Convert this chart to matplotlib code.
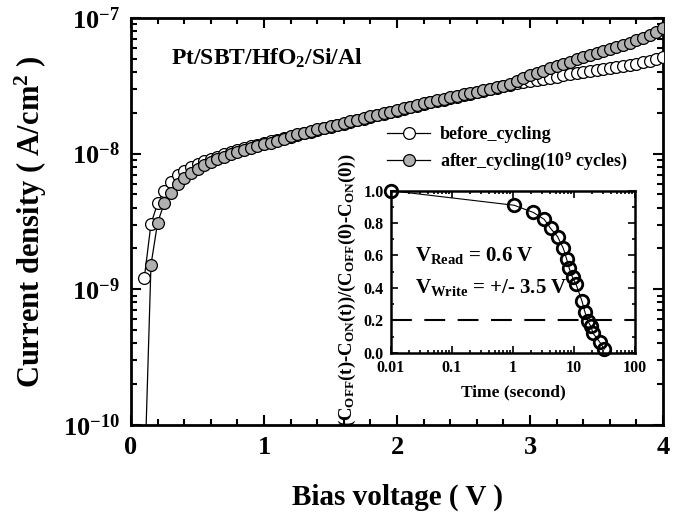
import numpy as np
import matplotlib
matplotlib.use("Agg")
import matplotlib.pyplot as plt
from matplotlib.ticker import FixedLocator, MultipleLocator, LogLocator, NullFormatter, FuncFormatter

plt.rcParams['font.family'] = ['Liberation Serif', 'DejaVu Serif']
plt.rcParams['font.weight'] = 'bold'
plt.rcParams['axes.labelweight'] = 'bold'
plt.rcParams['mathtext.fontset'] = 'custom'
plt.rcParams['mathtext.rm'] = 'Liberation Serif:bold'
plt.rcParams['mathtext.it'] = 'Liberation Serif:bold'
plt.rcParams['mathtext.bf'] = 'Liberation Serif:bold'

# bias voltage steps (V)
v_before = [0.10, 0.15, 0.20, 0.25, 0.30, 0.35, 0.40, 0.45, 0.50, 0.55,
            0.60, 0.65, 0.70, 0.75, 0.80, 0.85, 0.90, 0.95, 1.00, 1.05,
            1.10, 1.15, 1.20, 1.25, 1.30, 1.35, 1.40, 1.45, 1.50, 1.55,
            1.60, 1.65, 1.70, 1.75, 1.80, 1.85, 1.90, 1.95, 2.00, 2.05,
            2.10, 2.15, 2.20, 2.25, 2.30, 2.35, 2.40, 2.45, 2.50, 2.55,
            2.60, 2.65, 2.70, 2.75, 2.80, 2.85, 2.90, 2.95, 3.00, 3.05,
            3.10, 3.15, 3.20, 3.25, 3.30, 3.35, 3.40, 3.45, 3.50, 3.55,
            3.60, 3.65, 3.70, 3.75, 3.80, 3.85, 3.90, 3.95, 4.00]
v_after = v_before

# log10 of current density (A/cm^2)
logj_before = [-8.914, -8.518, -8.365, -8.272, -8.206, -8.157, -8.125, -8.098, -8.075, -8.055,
               -8.038, -8.022, -8.005, -7.990, -7.975, -7.960, -7.947, -7.935, -7.922, -7.910,
               -7.898, -7.886, -7.874, -7.862, -7.850, -7.838, -7.826, -7.814, -7.802, -7.790,
               -7.778, -7.766, -7.754, -7.742, -7.730, -7.718, -7.706, -7.694, -7.682, -7.670,
               -7.658, -7.646, -7.634, -7.623, -7.612, -7.601, -7.590, -7.579, -7.568, -7.557,
               -7.546, -7.535, -7.524, -7.513, -7.502, -7.491, -7.480, -7.472, -7.464, -7.456,
               -7.448, -7.440, -7.432, -7.424, -7.416, -7.408, -7.400, -7.392, -7.384, -7.376,
               -7.368, -7.360, -7.352, -7.344, -7.336, -7.328, -7.318, -7.306, -7.290]
logj_after = [-10.45, -8.820, -8.508, -8.365, -8.287, -8.225, -8.180, -8.140, -8.110, -8.085,
              -8.062, -8.042, -8.024, -8.006, -7.990, -7.975, -7.960, -7.946, -7.932, -7.918,
              -7.905, -7.892, -7.870, -7.858, -7.846, -7.834, -7.822, -7.810, -7.798, -7.786,
              -7.774, -7.762, -7.750, -7.738, -7.726, -7.714, -7.702, -7.690, -7.678, -7.666,
              -7.654, -7.642, -7.630, -7.619, -7.608, -7.597, -7.586, -7.575, -7.564, -7.553,
              -7.542, -7.531, -7.520, -7.509, -7.498, -7.487, -7.468, -7.445, -7.420, -7.405,
              -7.390, -7.372, -7.357, -7.340, -7.323, -7.306, -7.289, -7.271, -7.256, -7.241,
              -7.226, -7.211, -7.197, -7.182, -7.166, -7.148, -7.128, -7.104, -7.074]

# inset: retention
t_inset = [0.01, 1.05, 2.15, 3.26, 4.15, 5.4, 6.7, 7.6, 8.4, 9.5,
           10.8, 13.5, 15.1, 16.8, 18.8, 20.7, 26.7, 31.4]
r_inset = [1.0, 0.91, 0.866, 0.823, 0.767, 0.716, 0.644, 0.578, 0.52, 0.465,
           0.424, 0.321, 0.253, 0.198, 0.165, 0.119, 0.064, 0.023]

fig = plt.figure(figsize=(6.74, 5.21), dpi=100)
ax = fig.add_axes([0.1944, 0.1843, 0.7893, 0.7812])

j_before = 10.0 ** np.array(logj_before)
j_after = 10.0 ** np.array(logj_after)

ax.plot(v_before, j_before, color='black', lw=0.9, marker='o', ms=8.5,
        mfc='white', mec='black', mew=0.9, label='before_cycling', zorder=3)
ax.plot(v_after, j_after, color='black', lw=0.9, marker='o', ms=8.5,
        mfc='#b0b0b0', mec='black', mew=0.9,
        label='after_cycling(10$^9$ cycles)', zorder=4)

ax.set_yscale('log')
ax.set_xlim(0, 4)
ax.set_ylim(1e-10, 1e-7)
ax.xaxis.set_major_locator(MultipleLocator(1))
ax.xaxis.set_minor_locator(MultipleLocator(0.2))
ax.yaxis.set_major_locator(LogLocator(base=10, numticks=10))
ax.yaxis.set_minor_locator(LogLocator(base=10, subs=np.arange(2, 10), numticks=10))
ax.yaxis.set_minor_formatter(NullFormatter())
ax.yaxis.set_major_formatter(FuncFormatter(lambda v, p: '10$^{%d}$' % round(np.log10(v))))
ax.tick_params(which='both', direction='in', top=True, right=True, width=1.5)
ax.tick_params(which='major', length=7, labelsize=19, pad=8)
ax.tick_params(which='minor', length=4)
for s in ax.spines.values():
    s.set_linewidth(2)

ax.set_xlabel('Bias voltage ( V )', fontsize=21, labelpad=18)
ax.set_ylabel('Current density ( A/cm$^2$ )', fontsize=22, labelpad=10)
ax.text(0.075, 0.9, 'Pt/SBT/HfO$_2$/Si/Al', transform=ax.transAxes,
        fontsize=17, ha='left', va='center')

ax.legend(loc='upper left', bbox_to_anchor=(0.561, 0.775),
          bbox_transform=fig.transFigure, frameon=False, fontsize=13,
          handlelength=2.4, handletextpad=0.5, labelspacing=0.35, borderpad=0)

# inset
axi = fig.add_axes([0.580, 0.323, 0.362, 0.311])
axi.plot(t_inset, r_inset, color='black', lw=0.8, marker='o', ms=9,
         mfc='none', mec='black', mew=2, zorder=3, clip_on=False)
axi.axhline(0.2, color='black', lw=1.5, dashes=(10, 6))
axi.set_xscale('log')
axi.set_xlim(0.01, 100)
axi.set_ylim(0, 1.0)
axi.xaxis.set_major_locator(FixedLocator([0.01, 0.1, 1, 10, 100]))
axi.xaxis.set_major_formatter(FuncFormatter(lambda v, p: '%g' % v))
axi.xaxis.set_minor_locator(LogLocator(base=10, subs=np.arange(2, 10), numticks=10))
axi.xaxis.set_minor_formatter(NullFormatter())
axi.yaxis.set_major_locator(MultipleLocator(0.2))
axi.yaxis.set_minor_locator(MultipleLocator(0.1))
axi.yaxis.set_major_formatter(FuncFormatter(lambda v, p: '%.1f' % v))
axi.tick_params(which='both', direction='in', top=True, right=True, width=1.2)
axi.tick_params(which='major', length=5, labelsize=11.5, pad=5)
axi.tick_params(which='minor', length=2.5)
for s in axi.spines.values():
    s.set_linewidth(1.8)
axi.set_xlabel('Time (second)', fontsize=12.5, labelpad=6)
axi.text(0.1, 0.6, 'V$_{\\mathrm{Read}}$ = 0.6 V', transform=axi.transAxes,
         fontsize=15, ha='left', va='center')
axi.text(0.1, 0.4, 'V$_{\\mathrm{Write}}$ = +/- 3.5 V', transform=axi.transAxes,
         fontsize=15, ha='left', va='center')

fig.text(347 / 674, 1 - 290 / 521,
         '(C$_{OFF}$(t)-C$_{ON}$(t))/(C$_{OFF}$(0)-C$_{ON}$(0))',
         rotation=90, fontsize=13.5, ha='center', va='center')

fig.savefig('out.png', dpi=100)
